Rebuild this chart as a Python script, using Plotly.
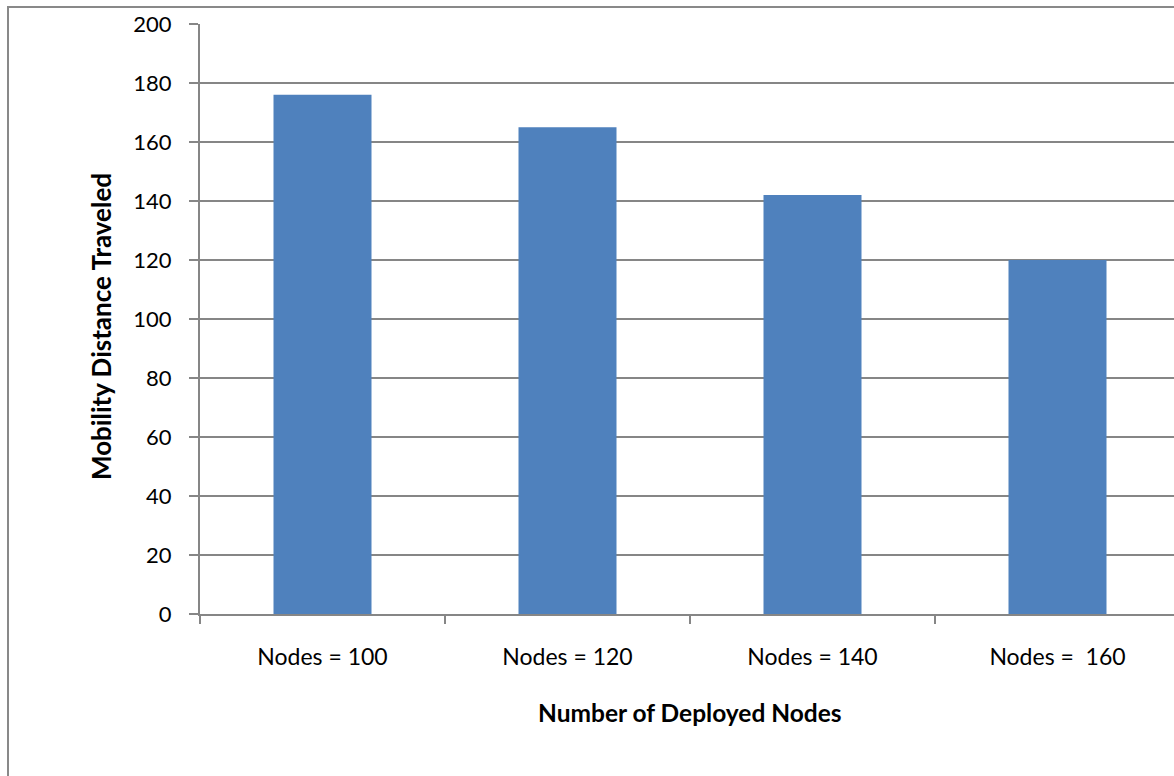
import plotly.graph_objects as go

categories = ["Nodes = 100", "Nodes = 120", "Nodes = 140", "Nodes = \u00a0160"]
values = [176, 165, 142, 120]
y_ticks = [0, 20, 40, 60, 80, 100, 120, 140, 160, 180, 200]

FONT = "Lato"
GRID = "#868686"

fig = go.Figure()
fig.add_trace(go.Bar(
    x=categories, y=values,
    marker=dict(color="#4F81BD", line=dict(width=0)),
    hoverinfo="skip",
))

fig.update_layout(
    width=1174, height=776,
    margin=dict(l=200, r=0, t=24, b=162, pad=0),
    paper_bgcolor="white", plot_bgcolor="white",
    bargap=0.6,
    showlegend=False,
    font=dict(family=FONT, size=22, color="black"),
    xaxis=dict(
        type="category",
        range=[-0.5, -0.5 + 974 / 245],
        tickson="boundaries", ticks="outside", ticklen=8, tickwidth=2, tickcolor=GRID,
        showline=True, linecolor=GRID, linewidth=2,
        showgrid=False, zeroline=False,
        ticklabelstandoff=21,
        tickfont=dict(family=FONT, size=23, color="black"),
    ),
    yaxis=dict(
        range=[0, 200],
        tickmode="array", tickvals=y_ticks,
        ticks="outside", ticklen=9, tickwidth=2, tickcolor=GRID,
        showline=True, linecolor=GRID, linewidth=2,
        showgrid=True, gridcolor=GRID, gridwidth=2,
        zeroline=False,
        ticklabelstandoff=13,
        tickfont=dict(family=FONT, size=22, color="black"),
    ),
    annotations=[
        dict(text="<b>Number of Deployed Nodes</b>", xref="paper", yref="paper",
             x=(690 - 200) / 974, y=(614 - 712) / 590, xanchor="center", yanchor="middle",
             showarrow=False, font=dict(family=FONT, size=24.5, color="black")),
        dict(text="<b>Mobility Distance Traveled</b>", xref="paper", yref="paper",
             x=(101 - 200) / 974, y=(614 - 327) / 590, xanchor="center", yanchor="middle",
             textangle=-90, showarrow=False, font=dict(family=FONT, size=26, color="black")),
    ],
    shapes=[
        dict(type="rect", xref="paper", yref="paper",
             x0=(8 - 200) / 974, x1=(1190 - 200) / 974,
             y0=(614 - 790) / 590, y1=(614 - 7) / 590,
             line=dict(color="#898989", width=2), fillcolor="rgba(0,0,0,0)", layer="below"),
    ],
)

fig.write_html(
    "out.html",
    config={"displayModeBar": False},
    post_script="document.body.style.margin='0';document.body.style.overflow='hidden';",
)
